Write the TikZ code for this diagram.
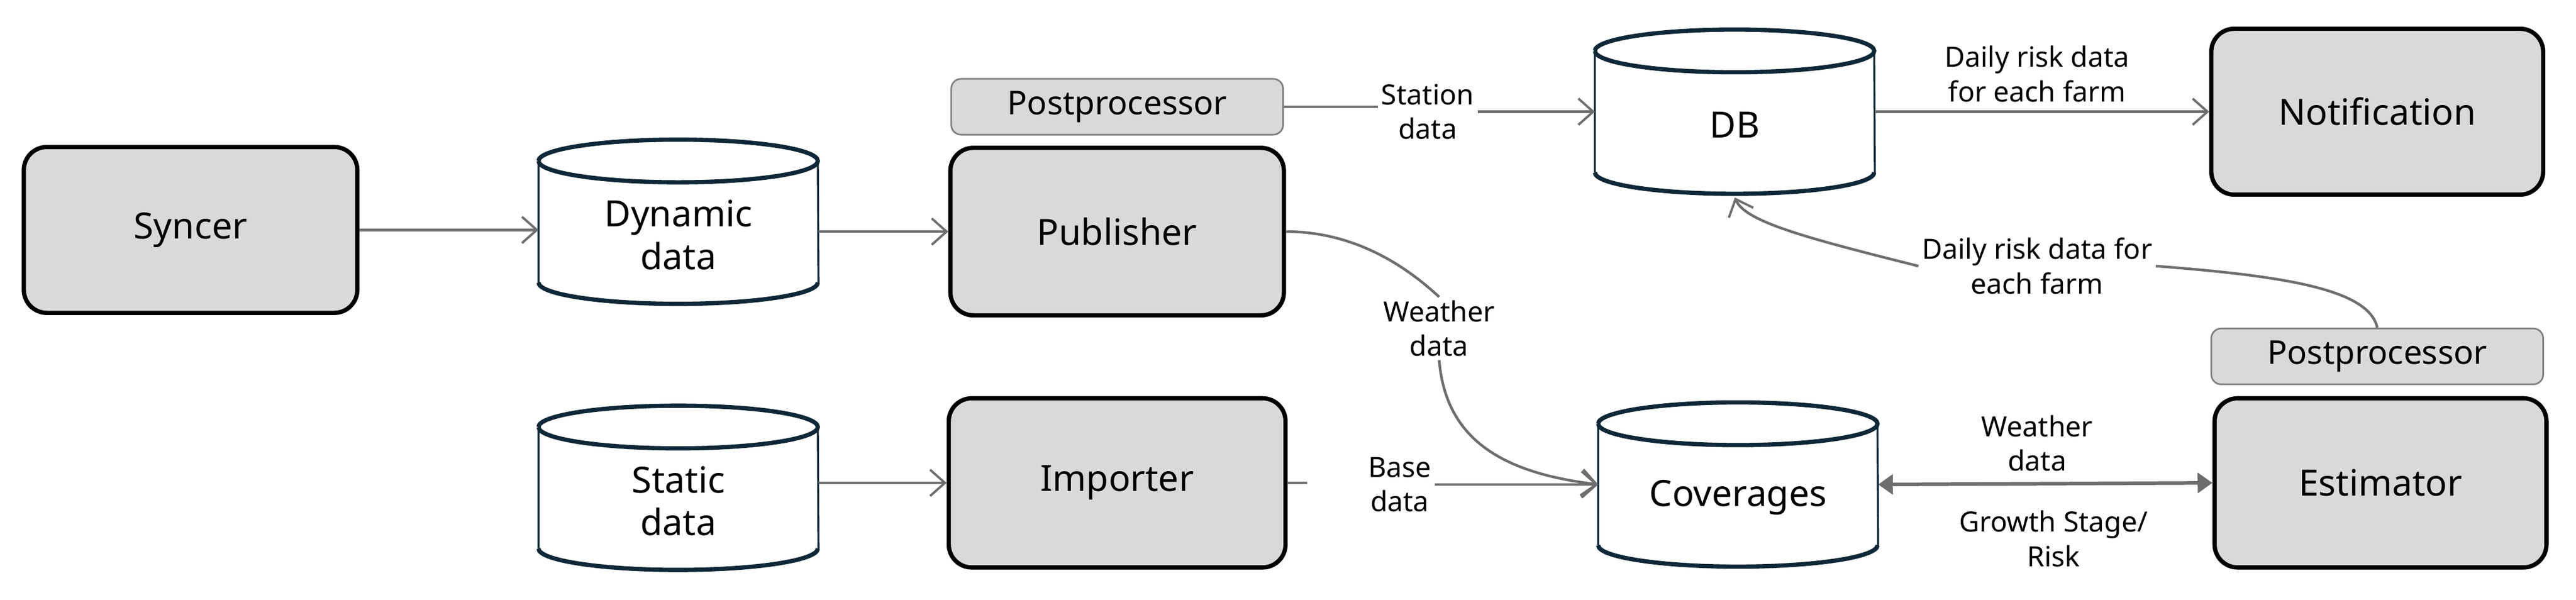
\documentclass[tikz,border=0pt]{standalone}
\usepackage{fontspec}
\setmainfont{Noto Sans}
\usetikzlibrary{arrows.meta}
\definecolor{boxfill}{HTML}{D9D9D9}
\definecolor{cylline}{HTML}{0F2837}
\definecolor{conn}{HTML}{6E6E6E}
\tikzset{
  box/.style={draw=black,line width=2.6pt,fill=boxfill,rounded corners=14pt,font=\fontsize{22}{26}\selectfont},
  pp/.style={draw=gray,line width=1pt,fill=boxfill,rounded corners=6pt,minimum width=202pt,minimum height=34pt,inner sep=0pt,font=\fontsize{20}{24}\selectfont},
  cylnode/.style={minimum width=170pt,minimum height=100pt,inner sep=0pt,align=center,font=\fontsize{22}{26}\selectfont},
  lbl/.style={align=center,font=\fontsize{17}{21}\selectfont,inner sep=2pt},
  conn/.style={draw=conn,line width=1.6pt},
  arr/.style={conn,-{Straight Barb[length=9pt,width=16pt,line width=1.4pt]}},
  darr/.style={conn,line width=2.2pt,{Triangle[length=9pt,width=12pt]}-{Triangle[length=9pt,width=12pt]}},
}
\newcommand{\mycyl}[4]{%
  \node[cylnode] (#1) at (#2,#3) {};
  \draw[cylline,line width=1.2pt,fill=white]
    ([yshift=-37pt]#1.west) -- ([yshift=37pt]#1.west)
    arc[start angle=180,end angle=0,x radius=85pt,y radius=13pt]
    -- ([yshift=-37pt]#1.east)
    arc[start angle=0,end angle=-180,x radius=85pt,y radius=13pt];
  \draw[cylline,line width=2.6pt] ([yshift=37pt]#1.west)
    arc[start angle=180,end angle=540,x radius=85pt,y radius=13pt];
  \draw[cylline,line width=2.6pt] ([yshift=-37pt]#1.west)
    arc[start angle=180,end angle=360,x radius=85pt,y radius=13pt];
  \node[cylnode] at (#2,#3+8) {#4};
}
\begin{document}
\begin{tikzpicture}[x=1pt,y=-1pt]
\useasboundingbox (0,0) rectangle (1568,365.3);
\node[box,minimum width=203pt,minimum height=101pt] (syncer) at (116,140) {Syncer};
\node[box,minimum width=203pt,minimum height=102pt] (pub) at (680,141) {Publisher};
\node[pp] (pp1) at (680,65) {Postprocessor};
\node[box,minimum width=205pt,minimum height=103pt] (imp) at (680,294) {Importer};
\node[box,minimum width=202pt,minimum height=101pt] (notif) at (1447,68) {Notification};
\node[box,minimum width=202pt,minimum height=103pt] (est) at (1449,294) {Estimator};
\node[pp] (pp2) at (1447,217) {Postprocessor};
\mycyl{dyn}{413}{135}{Dynamic\\data}
\mycyl{db}{1056}{68}{DB}
\mycyl{cov}{1058}{295}{Coverages}
\mycyl{stat}{413}{297}{Static\\data}

\node[lbl] (lstation) at (869,68) {Station\\data};
\node[lbl] (ldaily1) at (1240,45) {Daily risk data\\for each farm};
\node[lbl] (lweather1) at (876,200) {Weather\\data};
\node[lbl] (ldaily2) at (1240,162) {Daily risk data for\\each farm};
\node[lbl] (lbase) at (852,295) {Base\\data};
\node[lbl] (lweather2) at (1240,270) {Weather\\data};
\node[lbl] (lgrowth) at (1250,328) {Growth Stage/\\Risk};

\draw[arr] (syncer.east) -- (dyn.west |- syncer.east);
\draw[arr] (dyn.east |- pub.east) -- (pub.west);
\draw[arr] (stat.east |- imp.west) -- (imp.west);
\draw[conn] (pp1.east) -- (lstation.west |- pp1.east);
\draw[arr] (lstation.east) -- (db.west);
\draw[arr] (db.east) -- (notif.west);
\draw[conn] (imp.east) -- ([xshift=12pt]imp.east);
\draw[arr] (lbase.east) -- (cov.west);
\draw[darr] (cov.east) -- (est.west);
\draw[conn] (pub.east) .. controls (830,141) and (862,168) .. (lweather1.north);
\draw[arr] (lweather1.south) .. controls (880,268) and (915,288) .. (cov.west);
\draw[conn] (pp2.north) .. controls (1442,176) and (1390,168) .. (ldaily2.east);
\draw[arr] (ldaily2.west) .. controls (1100,145) and (1062,135) .. ([yshift=-2pt]db.south);
\end{tikzpicture}
\end{document}
